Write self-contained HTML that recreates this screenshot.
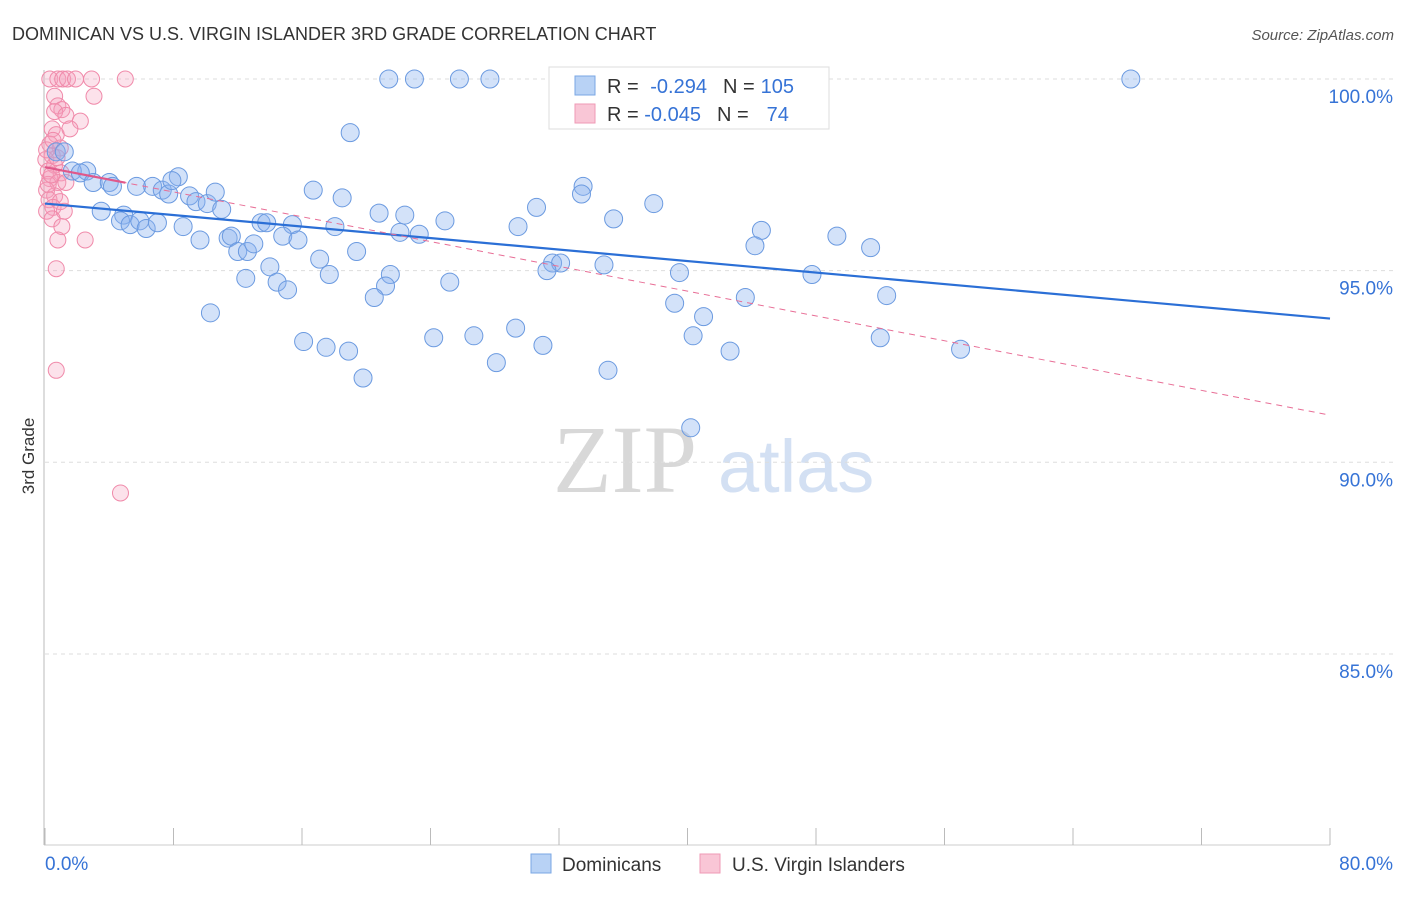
<!DOCTYPE html>
<html><head><meta charset="utf-8"><style>
body{margin:0;background:#fff;font-family:"Liberation Sans",sans-serif}
svg text{font-family:"Liberation Sans",sans-serif}
svg text.serif{font-family:"Liberation Serif",serif}
</style></head><body>
<svg id="chart" width="1406" height="892" xmlns="http://www.w3.org/2000/svg">
<text x="12" y="40" font-size="18" fill="#333">DOMINICAN VS U.S. VIRGIN ISLANDER 3RD GRADE CORRELATION CHART</text>
<text x="1394" y="40" font-size="15" fill="#555" text-anchor="end" font-style="italic">Source: ZipAtlas.com</text>
<g>
<text class="serif" x="553" y="492" font-size="96" fill="#d8d8d8">ZIP</text>
<text x="718" y="492" font-size="74" fill="#d3e0f3">atlas</text>
</g>
<g id="grid"></g>
<g id="axes"></g>
<g id="pts"></g>
<g id="trends"></g>
<text transform="translate(34,456) rotate(-90)" font-size="17" fill="#333" text-anchor="middle">3rd Grade</text>
<g>
<rect x="549" y="67" width="280" height="62" fill="#fff" stroke="#ddd"/>
<rect x="575" y="76" width="20" height="19" fill="#b8d2f5" stroke="#7aa7e4"/>
<rect x="575" y="104" width="20" height="19" fill="#f9c6d6" stroke="#ef9ab5"/>
<text x="607" y="93" font-size="20" fill="#333">R = <tspan fill="#3673d6" dx="6">-0.294</tspan><tspan dx="16" fill="#333">N =</tspan><tspan dx="6" fill="#3673d6">105</tspan></text>
<text x="607" y="121" font-size="20" fill="#333">R = <tspan fill="#3673d6">-0.045</tspan><tspan dx="16" fill="#333">N =</tspan><tspan dx="18" fill="#3673d6">74</tspan></text>
</g>
<g>
<rect x="531" y="854" width="20" height="19" fill="#b8d2f5" stroke="#7aa7e4"/>
<text x="562" y="871" font-size="19" fill="#333">Dominicans</text>
<rect x="700" y="854" width="20" height="19" fill="#f9c6d6" stroke="#ef9ab5"/>
<text x="732" y="871" font-size="19" fill="#333">U.S. Virgin Islanders</text>
</g>
</svg>
<script>
const yTicks=[100,95,90,85];
const yTickLabels=["100.0%","95.0%","90.0%","85.0%"];
const xTickLabels=["0.0%","80.0%"];
const blueX=[21.4,23.0,25.8,27.7,32.5,45.3,67.6,19.0,0.7,1.2,2.6,1.7,2.2,3.0,4.0,4.2,5.7,6.7,7.3,7.7,8.3,7.9,9.0,9.4,10.1,10.6,11.0,16.7,18.5,33.5,33.4,30.6,37.9,20.8,22.4,24.9,35.4,3.5,4.9,4.7,5.3,5.9,6.3,7.0,8.6,9.65,11.4,11.6,12.0,12.6,13.0,13.45,13.8,15.4,14.8,15.75,18.05,19.4,22.1,23.3,29.45,44.6,44.2,49.3,51.4,14.0,12.5,14.45,15.1,17.1,17.7,21.5,21.2,20.5,25.2,31.6,32.1,31.25,34.8,39.5,47.75,10.3,16.1,17.5,18.9,19.8,24.2,26.7,28.1,29.3,31.0,35.05,39.2,41.0,40.35,42.65,43.6,52.0,52.4,57.0,40.2];
const blueY=[100,100,100,100,100,100,100,98.6,98.1,98.1,97.6,97.6,97.55,97.3,97.3,97.2,97.2,97.2,97.1,97.0,97.45,97.35,96.95,96.8,96.75,97.05,96.6,97.1,96.9,97.2,97.0,96.65,96.75,96.5,96.45,96.3,96.35,96.55,96.45,96.3,96.2,96.3,96.1,96.25,96.15,95.8,95.85,95.9,95.5,95.5,95.7,96.25,96.25,96.2,95.9,95.8,96.15,95.5,96.0,95.95,96.15,96.05,95.65,95.9,95.6,95.1,94.8,94.7,94.5,95.3,94.9,94.9,94.6,94.3,94.7,95.2,95.2,95.0,95.15,94.95,94.9,93.9,93.15,93.0,92.9,92.2,93.25,93.3,92.6,93.5,93.05,92.4,94.15,93.8,93.3,92.9,94.3,93.25,94.35,92.95,90.9];
const pinkX=[0.3,0.8,1.1,1.4,1.9,2.9,5.0,3.05,0.6,0.8,1.05,0.6,1.3,2.2,0.45,0.7,1.55,0.3,0.95,0.45,0.05,0.6,0.2,1.0,0.3,0.8,1.3,0.1,0.6,0.25,0.95,0.5,0.1,1.2,0.45,1.05,0.8,2.5,0.7,0.7,4.7,0.2,0.4,0.75,0.1,0.5];
const pinkY=[100,100,100,100,100,100,100,99.55,99.55,99.3,99.2,99.15,99.05,98.9,98.7,98.55,98.7,98.3,98.2,98.0,97.9,97.75,97.6,97.55,97.4,97.3,97.3,97.1,96.95,96.85,96.8,96.65,96.55,96.55,96.35,96.15,95.8,95.8,95.05,92.4,89.2,97.25,97.5,97.95,98.15,98.4];
const blueTrend=[96.75,93.75];
const pinkTrend=[97.7,91.23];
const NS="http://www.w3.org/2000/svg";
const xs=v=>45+v/80*1285;
const ys=v=>79+(100-v)*38.33;
function mk(t,a,p){const e=document.createElementNS(NS,t);for(const k in a)e.setAttribute(k,a[k]);p.appendChild(e);return e;}
const grid=document.getElementById('grid'),axes=document.getElementById('axes');
yTicks.forEach((t,i)=>{
 const l=mk('line',{x1:45,x2:1394,y1:ys(t),y2:ys(t),stroke:'#ddd','stroke-dasharray':'4,4'},grid);
 
 
 const tx=mk('text',{x:1393,y:ys(t)+24,'font-size':19,fill:'#3673d6','text-anchor':'end'},axes);
 tx.textContent=yTickLabels[i];
 
 
});
mk('line',{x1:44,x2:44,y1:70,y2:845,stroke:'#bbb'},axes);
mk('line',{x1:44,x2:1330,y1:845,y2:845,stroke:'#ccc'},axes);
for(let i=0;i<=10;i++){const x=xs(i*8);const t=mk('line',{x1:x,x2:x,y1:828,y2:845,stroke:'#bbb'},axes);
 
 }
const l0=mk('text',{x:45,y:870,'font-size':19,fill:'#3673d6'},axes);l0.textContent=xTickLabels[0];


const l1=mk('text',{x:1393,y:870,'font-size':19,fill:'#3673d6','text-anchor':'end'},axes);l1.textContent=xTickLabels[1];


const pts=document.getElementById('pts');
pinkX.forEach((v,i)=>{const c=mk('circle',{cx:xs(v),cy:ys(pinkY[i]),r:8,fill:'rgba(244,160,188,0.3)',stroke:'#f08aaa','stroke-width':1},pts);
 
 });
blueX.forEach((v,i)=>{const c=mk('circle',{cx:xs(v),cy:ys(blueY[i]),r:9,fill:'rgba(140,180,238,0.38)',stroke:'#6b9ae0','stroke-width':1},pts);
 
 });
const tr=document.getElementById('trends');
const bt=mk('line',{x1:xs(0),y1:ys(blueTrend[0]),x2:xs(80),y2:ys(blueTrend[1]),stroke:'#2b6fd6','stroke-width':2.2},tr);


const pd=mk('line',{x1:xs(0),y1:ys(pinkTrend[0]),x2:xs(80),y2:ys(pinkTrend[1]),stroke:'#e86e96','stroke-width':1,'stroke-dasharray':'6,5'},tr);


const pe=5;const ps=mk('line',{x1:xs(0),y1:ys(pinkTrend[0]),x2:xs(pe),y2:ys(pinkTrend[0]+(pinkTrend[1]-pinkTrend[0])*pe/80),stroke:'#e0588a','stroke-width':2.2},tr);


</script>
</body></html>
